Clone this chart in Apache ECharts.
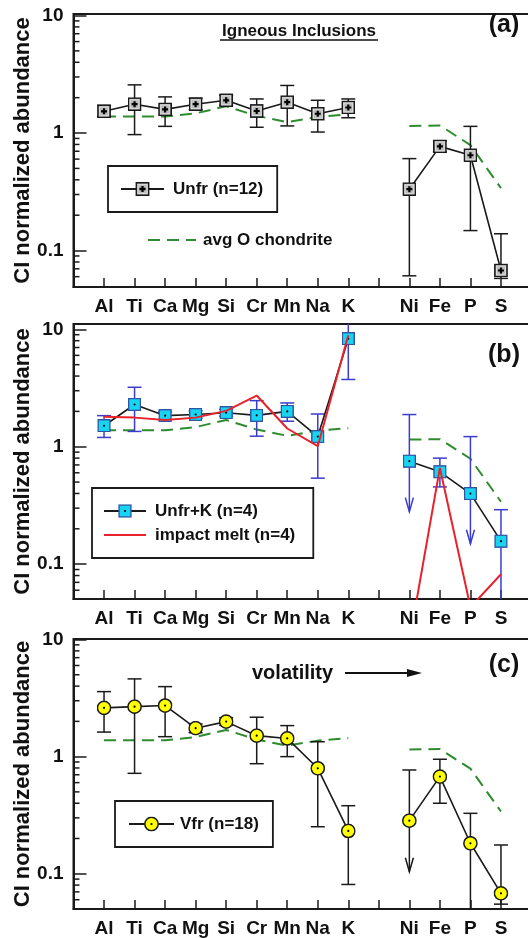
<!DOCTYPE html>
<html>
<head>
<meta charset="utf-8">
<script src="https://cdn.jsdelivr.net/npm/echarts@6/dist/echarts.min.js"></script>
<style>
html, body { margin: 0; padding: 0; background: #fff; }
#main { width: 528px; height: 938px; }
</style>
</head>
<body>
<div id="main"></div>
<script>
// element order along x (index 9 is the gap between lithophile and siderophile groups)
var elements = ['Al', 'Ti', 'Ca', 'Mg', 'Si', 'Cr', 'Mn', 'Na', 'K', '', 'Ni', 'Fe', 'P', 'S'];
var minorTicks = [0.06, 0.07, 0.08, 0.09, 0.2, 0.3, 0.4, 0.5, 0.6, 0.7, 0.8, 0.9, 2, 3, 4, 5, 6, 7, 8, 9];

// average ordinary chondrite (green dashed, same in all panels)
var chondrite = [1.38, 1.38, 1.38, 1.47, 1.69, 1.40, 1.24, 1.37, 1.44, null, 1.15, 1.16, 0.79, 0.34];

// (a) Unfr
var unfr   = [1.53, 1.76, 1.59, 1.76, 1.90, 1.54, 1.83, 1.46, 1.65, null, 0.333, 0.77, 0.647, 0.0677];
var unfrHi = [1.72, 2.57, 2.03, 1.98, 2.10, 1.95, 2.54, 1.90, 1.95, null, 0.606, 0.86, 1.14, 0.139];
var unfrLo = [1.38, 0.97, 1.14, 1.58, 1.72, 1.12, 1.15, 1.02, 1.35, null, 0.061, 0.69, 0.148, 0.058];

// (b) Unfr+K and impact melt
var unfrK   = [1.51, 2.29, 1.84, 1.88, 1.95, 1.85, 2.00, 1.22, 8.32, null, 0.754, 0.611, 0.399, 0.157];
var unfrKHi = [1.84, 3.21, 1.98, 2.02, 2.08, 2.47, 2.36, 1.90, 11.5, null, 1.88, 0.80, 1.22, 0.291];
var unfrKLo = [1.20, 1.35, 1.70, 1.75, 1.82, 1.23, 1.65, 0.54, 3.74, null, 0.28, 0.455, 0.149, 0.03];
var unfrKLimit = [0, 0, 0, 0, 0, 0, 0, 0, 0, 0, 1, 0, 1, 0];
var melt = [1.80, 1.77, 1.69, 1.77, 2.02, 2.73, 1.43, 1.01, 8.89, null, 0.022, 0.66, 0.043, 0.082];

// (c) Vfr
var vfr   = [2.61, 2.67, 2.73, 1.75, 1.99, 1.51, 1.43, 0.795, 0.232, null, 0.284, 0.675, 0.182, 0.068];
var vfrHi = [3.59, 4.61, 3.96, 1.90, 2.15, 2.17, 1.84, 1.34, 0.381, null, 0.769, 0.95, 0.328, 0.176];
var vfrLo = [1.62, 0.72, 1.48, 1.60, 1.85, 0.87, 1.00, 0.252, 0.081, null, 0.104, 0.40, 0.03, 0.055];
var vfrLimit = [0, 0, 0, 0, 0, 0, 0, 0, 0, 0, 1, 0, 0, 0];

var FONT = '"Liberation Sans", Arial, sans-serif';
var INK = '#1a1a1a';

function svgSymbol(svg) {
    return 'image://data:image/svg+xml;charset=utf-8,' + encodeURIComponent(svg);
}
var symGray = svgSymbol('<svg xmlns="http://www.w3.org/2000/svg" width="42" height="42" viewBox="0 0 14 14">' +
    '<rect x="0.9" y="0.9" width="12.2" height="12.2" fill="#bcbcbc" stroke="#1a1a1a" stroke-width="1.6"/>' +
    '<rect x="2.6" y="2.6" width="8.8" height="8.8" fill="none" stroke="#e0e0e0" stroke-width="0.8"/>' +
    '<path d="M7 4V10M4 7H10" stroke="#000" stroke-width="2.2"/></svg>');
var symCyan = svgSymbol('<svg xmlns="http://www.w3.org/2000/svg" width="42" height="42" viewBox="0 0 14 14">' +
    '<rect x="0.8" y="0.8" width="12.4" height="12.4" fill="#18d4f0" stroke="#2f55a6" stroke-width="1.5"/>' +
    '<circle cx="7" cy="7" r="1.1" fill="#000"/></svg>');
var symYellow = svgSymbol('<svg xmlns="http://www.w3.org/2000/svg" width="45" height="45" viewBox="0 0 15 15">' +
    '<circle cx="7.5" cy="7.5" r="6.6" fill="#ffff00" stroke="#1a1a1a" stroke-width="1.5"/>' +
    '<circle cx="7.5" cy="7.5" r="1.1" fill="#000"/></svg>');

function pairs(vals) {
    return vals.map(function (v, i) { return [i, v == null ? '-' : v]; });
}
function errData(lo, hi, lim) {
    var out = [];
    for (var i = 0; i < elements.length; i++) {
        if (hi[i] == null) continue;
        out.push([i, lo[i], hi[i], lim ? lim[i] : 0]);
    }
    return out;
}

function renderErr(color) {
    return function (params, api) {
        var x = api.value(0);
        var top = api.coord([x, api.value(2)]);
        var bot = api.coord([x, api.value(1)]);
        var st = { stroke: color, lineWidth: 1.5, fill: null };
        var kids = [
            { type: 'line', shape: { x1: top[0], y1: top[1], x2: bot[0], y2: bot[1] }, style: st },
            { type: 'line', shape: { x1: top[0] - 7, y1: top[1], x2: top[0] + 7, y2: top[1] }, style: st }
        ];
        if (api.value(3)) {
            kids.push({ type: 'polyline', shape: { points: [[bot[0] - 4, bot[1] - 14], [bot[0], bot[1]], [bot[0] + 4, bot[1] - 14]] }, style: st });
        } else {
            kids.push({ type: 'line', shape: { x1: bot[0] - 7, y1: bot[1], x2: bot[0] + 7, y2: bot[1] }, style: st });
        }
        return { type: 'group', children: kids };
    };
}

function renderMinor(params, api) {
    var p = api.coord([-1, api.value(0)]);
    return { type: 'line', shape: { x1: p[0], y1: p[1], x2: p[0] + 6, y2: p[1] },
        style: { stroke: INK, lineWidth: 1.5 } };
}

var grids = [
    { left: 73.5, top: 14, width: 458, height: 273, min: 0.049, max: 10.3 },
    { left: 73.5, top: 324, width: 458, height: 275, min: 0.0505, max: 11.1 },
    { left: 73.5, top: 639, width: 458, height: 270, min: 0.05, max: 10.1 }
];

var legendText = { fontSize: 17, fontWeight: 'bold', color: '#111', fontFamily: FONT, lineHeight: 20 };
var noSymbol = { opacity: 0 };

var option = {
    animation: false,
    backgroundColor: '#fff',
    grid: grids.map(function (g) {
        return { left: g.left, top: g.top, width: g.width, height: g.height, outerBoundsMode: 'none',
            containLabel: false, show: true, borderColor: INK, borderWidth: 2, backgroundColor: 'transparent' };
    }),
    xAxis: grids.map(function (g, k) {
        return {
            type: 'value', gridIndex: k, min: -1, max: 14, interval: 1,
            axisLine: { show: true, onZero: false, lineStyle: { color: INK, width: 2 } },
            axisTick: { show: true, inside: true, length: 9, lineStyle: { color: INK, width: 1.5 } },
            axisLabel: { margin: 10, fontSize: 19, fontWeight: 'bold', color: '#111', fontFamily: FONT,
                formatter: function (v) { return elements[v] || ''; } },
            splitLine: { show: false }
        };
    }),
    yAxis: grids.map(function (g, k) {
        return {
            type: 'log', logBase: 10, gridIndex: k, min: g.min, max: g.max,
            name: 'CI normalized abundance', nameLocation: 'middle', nameGap: 40, nameRotate: 90,
            nameMoveOverlap: false,
            nameTextStyle: { fontSize: 22, fontWeight: 'bold', color: '#111', fontFamily: FONT },
            axisLine: { show: true, onZero: false, lineStyle: { color: INK, width: 2 } },
            axisTick: { show: true, inside: true, length: 13, lineStyle: { color: INK, width: 1.5 } },
            axisLabel: { margin: 10, fontSize: 19, fontWeight: 'bold', color: '#111', fontFamily: FONT,
                showMinLabel: false, showMaxLabel: false,
                formatter: function (v) { return v >= 1 ? String(Math.round(v)) : String(+v.toPrecision(1)); } },
            splitLine: { show: false }
        };
    }),
    legend: [
        { data: ['Unfr (n=12)'], left: 108, top: 166, orient: 'vertical',
          padding: [13, 14, 13, 12], itemWidth: 43, itemHeight: 18, itemGap: 4,
          borderColor: INK, borderWidth: 1.8, selectedMode: false,
          textStyle: Object.assign({ padding: [0, 0, 0, 4] }, legendText) },
        { data: [{ name: 'avg O chondrite', itemStyle: noSymbol }], left: 147, top: 230, padding: 0,
          itemWidth: 48, itemHeight: 20, selectedMode: false,
          textStyle: Object.assign({ padding: [0, 0, 0, 2] }, legendText) },
        { data: ['Unfr+K (n=4)', { name: 'impact melt (n=4)', itemStyle: noSymbol }], left: 92, top: 488, orient: 'vertical',
          padding: [13, 18, 13, 11], itemWidth: 42, itemHeight: 17, itemGap: 4,
          borderColor: INK, borderWidth: 1.8, selectedMode: false,
          textStyle: Object.assign({ padding: [0, 0, 0, 4] }, legendText) },
        { data: ['Vfr (n=18)'], left: 115, top: 801, orient: 'vertical',
          padding: [13, 14, 13, 13], itemWidth: 45, itemHeight: 19, itemGap: 4,
          borderColor: INK, borderWidth: 1.8, selectedMode: false,
          textStyle: Object.assign({ padding: [0, 0, 0, 1] }, legendText) }
    ],
    graphic: [
        { type: 'text', x: 299, y: 31, style: { text: 'Igneous Inclusions', fontSize: 17, fontWeight: 'bold', fontFamily: FONT, fill: '#111', align: 'center', verticalAlign: 'middle', textAlign: 'center', textVerticalAlign: 'middle' } },
        { type: 'line', shape: { x1: 220, y1: 40, x2: 378, y2: 40 }, style: { stroke: '#111', lineWidth: 1.5 } },
        { type: 'text', x: 504, y: 25, style: { text: '(a)', fontSize: 25, fontWeight: 'bold', fontFamily: FONT, fill: '#111', align: 'center', verticalAlign: 'middle', textAlign: 'center', textVerticalAlign: 'middle' } },
        { type: 'text', x: 504, y: 355, style: { text: '(b)', fontSize: 25, fontWeight: 'bold', fontFamily: FONT, fill: '#111', align: 'center', verticalAlign: 'middle', textAlign: 'center', textVerticalAlign: 'middle' } },
        { type: 'text', x: 504, y: 665, style: { text: '(c)', fontSize: 25, fontWeight: 'bold', fontFamily: FONT, fill: '#111', align: 'center', verticalAlign: 'middle', textAlign: 'center', textVerticalAlign: 'middle' } },
        { type: 'text', x: 252, y: 673, style: { text: 'volatility', fontSize: 20, fontWeight: 'bold', fontFamily: FONT, fill: '#111', align: 'left', verticalAlign: 'middle', textAlign: 'left', textVerticalAlign: 'middle' } },
        { type: 'line', shape: { x1: 345, y1: 673, x2: 414, y2: 673 }, style: { stroke: '#111', lineWidth: 2 } },
        { type: 'polygon', shape: { points: [[407, 669], [422, 673], [407, 677]] }, style: { fill: '#111' } }
    ],
    series: []
};

var panels = [
    { name: 'Unfr (n=12)', vals: unfr, hi: unfrHi, lo: unfrLo, lim: null, sym: symGray, size: 14, err: INK },
    { name: 'Unfr+K (n=4)', vals: unfrK, hi: unfrKHi, lo: unfrKLo, lim: unfrKLimit, sym: symCyan, size: 13.5, err: '#3b3bd0' },
    { name: 'Vfr (n=18)', vals: vfr, hi: vfrHi, lo: vfrLo, lim: vfrLimit, sym: symYellow, size: 15, err: INK }
];

panels.forEach(function (p, k) {
    option.series.push({
        type: 'custom', name: 'minor' + k, xAxisIndex: k, yAxisIndex: k, silent: true,
        renderItem: renderMinor, data: minorTicks.map(function (v) { return [v]; }),
        encode: { y: 0 }, z: 1
    });
    option.series.push({
        type: 'line', name: 'avg O chondrite', xAxisIndex: k, yAxisIndex: k,
        data: pairs(chondrite), symbol: 'none', connectNulls: false, clip: true,
        lineStyle: { color: '#2e8b2e', width: 2, type: [12, 7] }, itemStyle: { color: '#2e8b2e' }, z: 2
    });
    option.series.push({
        type: 'custom', name: 'err' + k, xAxisIndex: k, yAxisIndex: k, silent: true, clip: true,
        renderItem: renderErr(p.err), data: errData(p.lo, p.hi, p.lim),
        encode: { x: 0, y: [1, 2] }, z: 3
    });
    option.series.push({
        type: 'line', name: p.name, xAxisIndex: k, yAxisIndex: k,
        data: pairs(p.vals), symbol: p.sym, symbolSize: p.size, showSymbol: true, connectNulls: false, clip: true,
        lineStyle: { color: INK, width: 1.6 }, itemStyle: { color: INK }, z: 4
    });
    if (k === 1) {
        option.series.push({
            type: 'line', name: 'impact melt (n=4)', xAxisIndex: 1, yAxisIndex: 1,
            data: pairs(melt), symbol: 'none', connectNulls: false, clip: true,
            lineStyle: { color: '#e8222a', width: 2 }, itemStyle: { color: '#e8222a' }, z: 5
        });
    }
});

var myChart = echarts.init(document.getElementById('main'));
myChart.setOption(option);
</script>
</body>
</html>
